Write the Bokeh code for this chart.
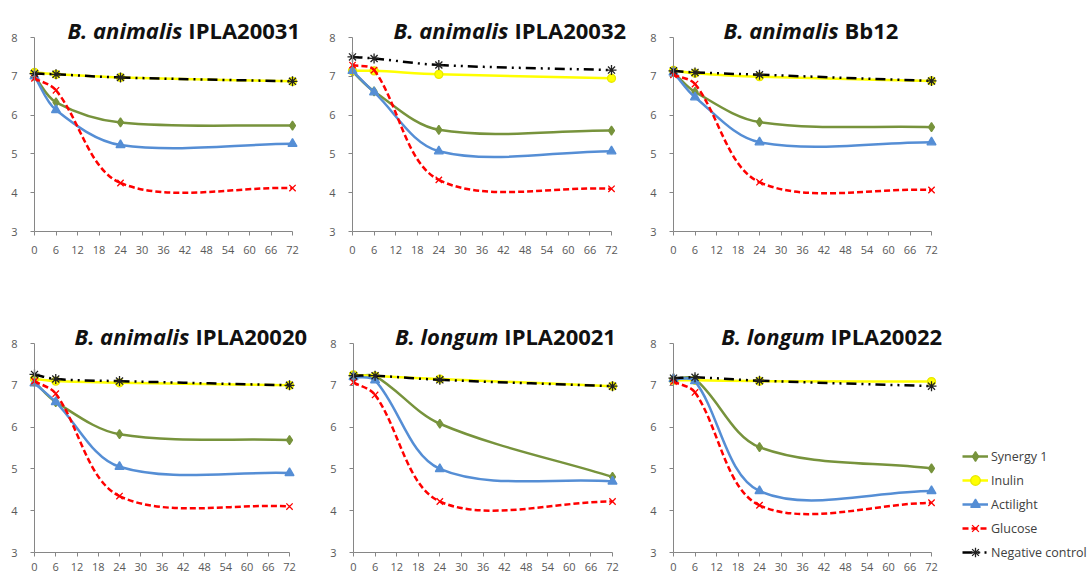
import math
from bokeh.plotting import figure
from bokeh.layouts import column, row
from bokeh.models import (Label, Legend, LegendItem, FixedTicker, Range1d,
                          ColumnDataSource, LinearAxis)
from bokeh.embed import file_html
from bokeh.resources import INLINE

# ---------------- data ----------------
hours = [0, 6, 24, 72]
x_ticks = [0, 6, 12, 18, 24, 30, 36, 42, 48, 54, 60, 66, 72]
y_ticks = [3, 4, 5, 6, 7, 8]
series_names = ["Synergy 1", "Inulin", "Actilight", "Glucose", "Negative control"]
species = ["B. animalis", "B. animalis", "B. animalis", "B. animalis", "B. longum", "B. longum"]
strains = ["IPLA20031", "IPLA20032", "Bb12", "IPLA20020", "IPLA20021", "IPLA20022"]

synergy_1 = [
    [7.00, 6.33, 5.81, 5.73],
    [7.12, 6.61, 5.62, 5.60],
    [7.10, 6.60, 5.82, 5.69],
    [7.08, 6.60, 5.83, 5.69],
    [7.20, 7.22, 6.08, 4.81],
    [7.15, 7.15, 5.52, 5.01],
]
inulin = [
    [7.10, 7.05, 6.97, 6.87],
    [7.14, 7.14, 7.05, 6.95],
    [7.15, 7.08, 6.99, 6.88],
    [7.15, 7.10, 7.06, 7.00],
    [7.25, 7.22, 7.15, 6.98],
    [7.12, 7.12, 7.10, 7.09],
]
actilight = [
    [7.00, 6.13, 5.23, 5.26],
    [7.14, 6.59, 5.07, 5.07],
    [7.10, 6.46, 5.30, 5.30],
    [7.05, 6.60, 5.05, 4.90],
    [7.20, 7.12, 5.00, 4.70],
    [7.15, 7.10, 4.47, 4.47],
]
glucose = [
    [6.95, 6.64, 4.25, 4.12],
    [7.29, 7.16, 4.33, 4.10],
    [7.04, 6.80, 4.27, 4.07],
    [7.10, 6.80, 4.35, 4.10],
    [7.07, 6.77, 4.22, 4.22],
    [7.09, 6.83, 4.13, 4.19],
]
negative_control = [
    [7.07, 7.05, 6.97, 6.87],
    [7.50, 7.46, 7.29, 7.16],
    [7.14, 7.10, 7.04, 6.88],
    [7.26, 7.15, 7.10, 7.00],
    [7.23, 7.23, 7.13, 6.98],
    [7.17, 7.19, 7.11, 6.98],
]
all_series = [synergy_1, inulin, actilight, glucose, negative_control]

# ---------------- styles ----------------
styles = [
    dict(color="#77933C", dash="solid", marker="diamond", msize=9, mfill="#77933C", mline="#77933C"),
    dict(color="#FFFF00", dash="solid", marker="circle", msize=8, mfill="#FFFF00", mline="#E8E800"),
    dict(color="#558ED5", dash="solid", marker="triangle", msize=9, mfill="#558ED5", mline="#558ED5"),
    dict(color="#FF0000", dash="6 3", marker="x", msize=9, mfill="#FF0000", mline="#FF0000"),
    dict(color="#000000", dash="10 5 2 5 2 5", marker="asterisk", msize=10, mfill="#000000", mline="#222222"),
]
LW = 2.5
FONT = "Open Sans"

# layout: (axis x abs, axis width px, figure left abs, figure width)
row1_geom = [(34, 258, 0, 320), (352, 259, 320, 320), (673, 258, 640, 452)]
row2_geom = [(34, 255, 0, 320), (353, 259, 320, 320), (673, 258, 640, 310)]
LEGEND_W = 1092 - 950
# (figure top abs, y=8 abs, px from 8 to 3, figure height, x label standoff)
row1_v = (0, 37, 194, 299, 10)
row2_v = (299, 343, 209, 279, 6)
title_split = [42.1, 44.2, 46.9, 44.6, 41.1, 43.0]
PAD_PX = 7


def bezier_source(xs, ys, sx, sy):
    """Excel-like smoothed segments: tangents weighted by screen chord lengths."""
    n = len(xs)
    pts = list(zip(xs, ys))

    def dist(a, b):
        return math.hypot((b[0] - a[0]) * sx, (b[1] - a[1]) * sy)

    out_c, in_c = [], []
    for i in range(n):
        prv = pts[i - 1] if i > 0 else pts[i]
        nxt = pts[i + 1] if i < n - 1 else pts[i]
        dp = dist(prv, pts[i])
        dn = dist(pts[i], nxt)
        tot = dp + dn
        dx, dy = nxt[0] - prv[0], nxt[1] - prv[1]
        fo = dn / tot / 3.0 if tot > 0 else 0
        fi = dp / tot / 3.0 if tot > 0 else 0
        out_c.append((pts[i][0] + dx * fo, pts[i][1] + dy * fo))
        in_c.append((pts[i][0] - dx * fi, pts[i][1] - dy * fi))
    d = dict(x0=[], y0=[], x1=[], y1=[], cx0=[], cy0=[], cx1=[], cy1=[])
    for i in range(n - 1):
        d["x0"].append(xs[i]); d["y0"].append(ys[i])
        d["x1"].append(xs[i + 1]); d["y1"].append(ys[i + 1])
        d["cx0"].append(out_c[i][0]); d["cy0"].append(out_c[i][1])
        d["cx1"].append(in_c[i + 1][0]); d["cy1"].append(in_c[i + 1][1])
    return ColumnDataSource(d)


def style_axis(ax):
    ax.major_label_text_font = FONT
    ax.major_label_text_font_size = "11px"
    ax.major_label_text_color = "#595959"
    ax.minor_tick_line_color = None


def draw_series(p, k, ppx, ppy):
    rends = []
    for s, st in zip(all_series, styles):
        ys = s[k]
        src = bezier_source(hours, ys, ppx, ppy)
        b = p.bezier(x0="x0", y0="y0", x1="x1", y1="y1", cx0="cx0", cy0="cy0",
                     cx1="cx1", cy1="cy1", source=src, line_color=st["color"],
                     line_width=LW, line_dash=st["dash"])
        sc = p.scatter(hours, ys, marker=st["marker"], size=st["msize"],
                       fill_color=st["mfill"], line_color=st["mline"], line_width=1.3)
        rends.append((b, sc))
    return rends


def make_panel(k, geom, vgeom):
    axis_x, W, fig_left, fig_w = geom
    fig_top, y8, H, fig_h, xstand = vgeom
    ppx = W / 72.0
    ppy = H / 5.0
    frame_left = int(round(axis_x - fig_left - PAD_PX))
    pad = axis_x - fig_left - frame_left
    fw = fig_w - frame_left
    x_start = -pad / ppx
    x_end = x_start + fw / ppx
    top_px = y8 - fig_top
    fh = top_px + H
    y_end = 8 + top_px / ppy
    bb = fig_h - fh

    p = figure(frame_width=fw, frame_height=fh,
               min_border_left=frame_left, min_border_right=0,
               min_border_top=0, min_border_bottom=bb,
               x_range=Range1d(x_start, x_end), y_range=Range1d(3, y_end),
               output_backend="svg", toolbar_location=None)
    p.outline_line_color = None
    p.xgrid.visible = False
    p.ygrid.visible = False
    p.background_fill_color = "white"
    p.border_fill_color = "white"

    xa = p.xaxis[0]
    style_axis(xa)
    xa.ticker = FixedTicker(ticks=x_ticks)
    xa.bounds = (0, 72)
    xa.axis_line_color = "#868686"
    xa.major_tick_line_color = "#868686"
    xa.major_tick_in = 0
    xa.major_tick_out = 4
    xa.major_label_standoff = xstand

    # y labels and ticks (axis sits at the frame edge; ticks pushed to x = 0)
    ya = p.yaxis[0]
    style_axis(ya)
    ya.ticker = FixedTicker(ticks=y_ticks)
    ya.bounds = (3, 8)
    ya.axis_line_color = None
    ya.major_tick_line_color = "#868686"
    ya.major_tick_in = int(round(pad))
    ya.major_tick_out = -int(round(pad)) + 4
    ya.major_label_standoff = 10

    # y axis line at x = 0
    yl = LinearAxis(ticker=FixedTicker(ticks=[]), bounds=(3, 8), fixed_location=0,
                    axis_line_color="#868686", major_tick_line_color=None,
                    minor_tick_line_color=None)
    p.add_layout(yl, "left")

    draw_series(p, k, ppx, ppy)

    p.add_layout(Label(x=title_split[k], y=8, x_offset=-3, y_offset=8, text=species[k],
                       text_font=FONT, text_font_size="22px",
                       text_font_style="bold italic", text_color="#111111",
                       text_align="right", text_baseline="alphabetic"))
    p.add_layout(Label(x=title_split[k], y=8, x_offset=3, y_offset=8, text=strains[k],
                       text_font=FONT, text_font_size="22px",
                       text_font_style="bold", text_color="#111111",
                       text_align="left", text_baseline="alphabetic"))
    return p


def make_legend_fig(width, height, loc):
    # the legend's own figure: the series are drawn out of its view, only the key shows
    p = figure(frame_width=width, frame_height=height, min_border=0,
               x_range=Range1d(100, 101), y_range=Range1d(100, 101),
               x_axis_location=None, y_axis_location=None,
               output_backend="svg", toolbar_location=None)
    p.outline_line_color = None
    p.xgrid.visible = False
    p.ygrid.visible = False
    rends = draw_series(p, 5, 1.0, 1.0)
    items = [LegendItem(label=name, renderers=list(r)) for name, r in zip(series_names, rends)]
    leg = Legend(items=items, location=loc, orientation="vertical",
                 glyph_width=26, glyph_height=24, label_height=24, spacing=0,
                 label_standoff=3, padding=0, margin=0,
                 border_line_color=None, background_fill_alpha=0,
                 label_text_font=FONT, label_text_font_size="12.5px",
                 label_text_color="#404040")
    p.add_layout(leg, "center")
    return p


panels_r1 = [make_panel(i, row1_geom[i], row1_v) for i in range(3)]
panels_r2 = [make_panel(3 + i, row2_geom[i], row2_v) for i in range(3)]
legend_fig = make_legend_fig(LEGEND_W, 279, (962 - 950, 14))

layout = column(row(*panels_r1, spacing=0),
                row(*panels_r2, legend_fig, spacing=0), spacing=0)

with open("out.html", "w") as f:
    f.write(file_html(layout, INLINE))
